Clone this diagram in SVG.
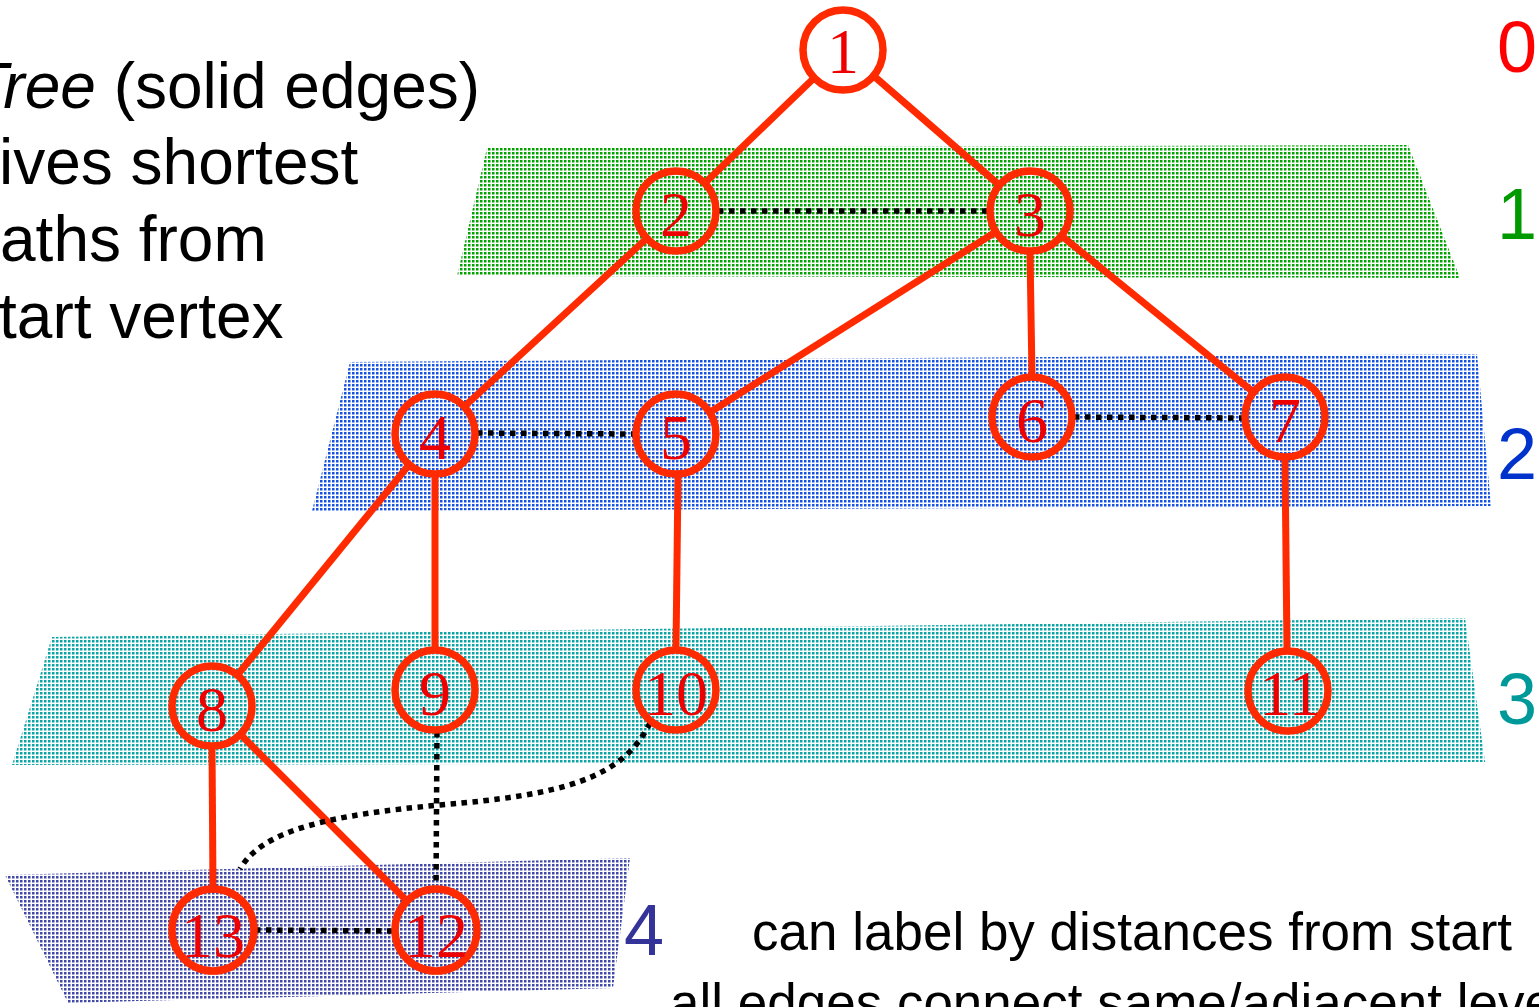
<svg xmlns="http://www.w3.org/2000/svg" width="1539" height="1007" viewBox="0 0 1539 1007">
<defs>
<pattern id="pg" width="4" height="4" patternUnits="userSpaceOnUse"><rect width="2.5" height="2.5" fill="#00a400"/></pattern>
<pattern id="pb" width="4" height="4" patternUnits="userSpaceOnUse"><rect width="2.5" height="2.5" fill="#1552e0"/></pattern>
<pattern id="pt" width="4" height="4" patternUnits="userSpaceOnUse"><rect width="2.5" height="2.5" fill="#0aa5a5"/></pattern>
<pattern id="pp" width="4" height="4" patternUnits="userSpaceOnUse"><rect width="2.5" height="2.5" fill="#4048a8"/></pattern>
<style>
.node circle{fill:none;stroke:#ff2a00;stroke-width:7.5}
.node text{font-family:"Liberation Serif","Times New Roman",serif;font-size:64px;fill:#ee0000;text-anchor:middle}
.tree{stroke:#ff2a00;stroke-width:7;fill:none;stroke-linecap:butt}
.dot{stroke:#000;stroke-width:5.5;stroke-dasharray:5.5 5.5;fill:none}
.lbl{font-family:"Liberation Sans",Arial,Helvetica,sans-serif;font-size:72px}
.txt{font-family:"Liberation Sans",Arial,Helvetica,sans-serif;fill:#000}
</style>
</defs>
<rect width="1539" height="1007" fill="#fff"/>
<g id="bands">
<polygon points="487,148 1408,145 1460,278 457,276" fill="url(#pg)"/>
<polygon points="350,362 1477,354 1491,506 312,511" fill="url(#pb)"/>
<polygon points="52,637 1465,618 1485,762 12,765" fill="url(#pt)"/>
<polygon points="5,875 630,858 613,988 68,1003" fill="url(#pp)"/>
</g>
<g id="text-left" class="txt" font-size="64">
<text x="-31" y="108"><tspan font-style="italic">Tree</tspan> (solid edges)</text>
<text x="-1" y="184">ives shortest</text>
<text x="0" y="261">aths from</text>
<text x="-1" y="338">tart vertex</text>
</g>
<g id="levels" class="lbl">
<text x="1497" y="72" fill="#ff0000">0</text>
<text x="1497" y="239" fill="#009a00">1</text>
<text x="1497" y="479" fill="#0033cc">2</text>
<text x="1497" y="724" fill="#009999">3</text>
<text x="624" y="955" fill="#333399">4</text>
</g>
<g id="text-bottom" class="txt" font-size="53">
<text x="752" y="950">can label by distances from start</text>
<text x="670" y="1021">all edges connect same/adjacent leve</text>
</g>
<g id="connectors">
<line class="tree" x1="813" y1="79" x2="706" y2="182"/>
<line class="tree" x1="875" y1="77" x2="998" y2="184"/>
<line class="tree" x1="645" y1="240" x2="466" y2="405"/>
<line class="tree" x1="994" y1="233" x2="712" y2="411"/>
<line class="tree" x1="1030" y1="252" x2="1032" y2="376"/>
<line class="tree" x1="1063" y1="237" x2="1252" y2="391"/>
<line class="tree" x1="408" y1="466" x2="239" y2="673"/>
<line class="tree" x1="435" y1="475" x2="435" y2="649"/>
<line class="tree" x1="678" y1="475" x2="676" y2="649"/>
<line class="tree" x1="1285" y1="458" x2="1287" y2="650"/>
<line class="tree" x1="212" y1="747" x2="213" y2="889"/>
<line class="tree" x1="242" y1="736" x2="406" y2="900"/>
<line class="dot" x1="718" y1="211" x2="988" y2="211"/>
<line class="dot" x1="477" y1="433" x2="634" y2="434"/>
<line class="dot" x1="1074" y1="417" x2="1243" y2="418"/>
<line class="dot" x1="437" y1="732" x2="436" y2="889"/>
<line class="dot" x1="255" y1="930" x2="394" y2="931"/>
<path class="dot" d="M650,723 C622,780 560,795 440,805 C330,815 262,830 240,869"/>
</g>
<g id="n1" class="node"><circle cx="843" cy="50" r="40"/><text x="843" y="73">1</text></g>
<g id="n2" class="node"><circle cx="676" cy="211" r="40"/><text x="676" y="236">2</text></g>
<g id="n3" class="node"><circle cx="1030" cy="211" r="40"/><text x="1030" y="236">3</text></g>
<g id="n4" class="node"><circle cx="435" cy="434" r="40"/><text x="435" y="459">4</text></g>
<g id="n5" class="node"><circle cx="676" cy="434" r="40"/><text x="676" y="459">5</text></g>
<g id="n6" class="node"><circle cx="1032" cy="417" r="40"/><text x="1032" y="442">6</text></g>
<g id="n7" class="node"><circle cx="1285" cy="417" r="40"/><text x="1285" y="442">7</text></g>
<g id="n8" class="node"><circle cx="212" cy="706" r="40"/><text x="212" y="731">8</text></g>
<g id="n9" class="node"><circle cx="435" cy="690" r="40"/><text x="435" y="715">9</text></g>
<g id="n10" class="node"><circle cx="676" cy="690" r="40"/><text x="676" y="715">10</text></g>
<g id="n11" class="node"><circle cx="1288" cy="691" r="40"/><text x="1290" y="715">11</text></g>
<g id="n12" class="node"><circle cx="436" cy="930" r="41"/><text x="436" y="957">12</text></g>
<g id="n13" class="node"><circle cx="213" cy="930" r="41"/><text x="213" y="957">13</text></g>
</svg>
